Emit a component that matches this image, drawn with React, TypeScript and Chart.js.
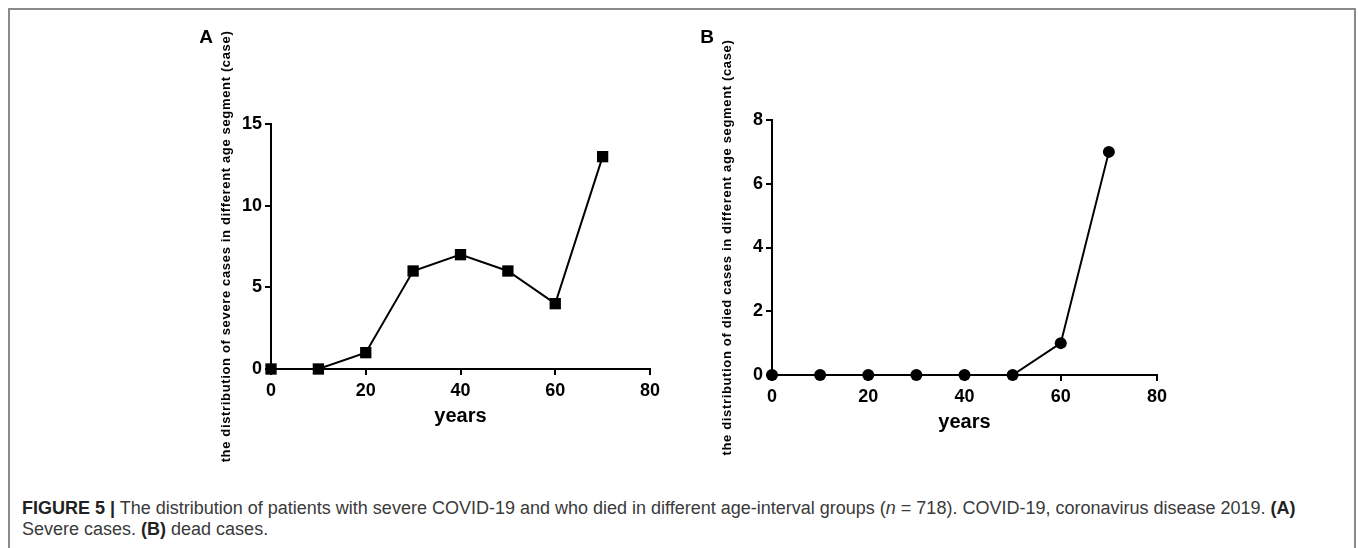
import React, { useEffect, useRef } from "react";
import { Chart, registerables } from "chart.js";

Chart.register(...registerables);

// ---- data ----
const ageYears = [0, 10, 20, 30, 40, 50, 60, 70];
const severeCases = [0, 0, 1, 6, 7, 6, 4, 13];
const diedCases = [0, 0, 0, 0, 0, 0, 1, 7];
const xTickValues = [0, 20, 40, 60, 80];
const severeTickValues = [0, 5, 10, 15];
const diedTickValues = [0, 2, 4, 6, 8];
const xAxisTitle = "years";
const severeTitle = "the distribution of severe cases in different age segment (case)";
const diedTitle = "the distribution of died cases in different age segment (case)";

const FONT = '"Liberation Sans", Arial, Helvetica, sans-serif';

type Area = { l: number; t: number; r: number; b: number };
type PanelProps = {
  left: number;
  top: number;
  width: number;
  height: number;
  area: Area;
  values: number[];
  yTicks: number[];
  pointStyle: "rect" | "circle";
  radius: number;
  letter: string;
  yTitle: string;
};

function Panel(p: PanelProps) {
  const ref = useRef<HTMLCanvasElement | null>(null);
  useEffect(() => {
    if (!ref.current) return;
    const yMax = p.yTicks[p.yTicks.length - 1];
    const labelsPlugin = {
      id: "panelLabels",
      afterDraw(chart: any) {
        const ctx = chart.ctx as CanvasRenderingContext2D;
        const ca = chart.chartArea;
        ctx.save();
        ctx.fillStyle = "#000";
        ctx.textAlign = "center";
        ctx.textBaseline = "middle";
        // panel letter
        ctx.font = `bold 19px ${FONT}`;
        ctx.fillText(p.letter, ca.left - 65, 18);
        // x title
        ctx.font = `bold 20px ${FONT}`;
        ctx.fillText(xAxisTitle, (ca.left + ca.right) / 2, ca.bottom + 47);
        // y title
        ctx.translate(ca.left - 45, (ca.top + ca.bottom) / 2);
        ctx.rotate(-Math.PI / 2);
        ctx.font = `bold 13px ${FONT}`;
        (ctx as any).letterSpacing = "0.65px";
        ctx.fillText(p.yTitle, 0, 0);
        ctx.restore();
      },
    };
    const tickFont = { family: FONT, size: 18, weight: "bold" as const };
    const chart = new Chart(ref.current, {
      type: "line",
      data: {
        datasets: [
          {
            data: ageYears.map((x, i) => ({ x, y: p.values[i] })),
            borderColor: "#000",
            backgroundColor: "#000",
            borderWidth: 2,
            pointStyle: p.pointStyle,
            pointRadius: p.radius,
            pointBorderWidth: 0,
            pointBackgroundColor: "#000",
            tension: 0,
            fill: false,
            clip: false as any,
          },
        ],
      },
      options: {
        animation: false,
        responsive: false,
        maintainAspectRatio: false,
        events: [],
        layout: {
          padding: { left: 0, top: p.area.t, right: p.width - p.area.r, bottom: 0 },
        },
        plugins: {
          legend: { display: false },
          tooltip: { enabled: false },
          title: { display: false },
        },
        scales: {
          x: {
            type: "linear",
            min: 0,
            max: 80,
            afterBuildTicks: (s: any) => {
              s.ticks = xTickValues.map((v) => ({ value: v }));
            },
            afterFit: (s: any) => {
              s.height = p.height - p.area.b;
            },
            grid: {
              display: true,
              drawOnChartArea: false,
              drawTicks: true,
              tickLength: 6,
              tickWidth: 2,
              tickColor: "#000",
              color: "#000",
              lineWidth: 2,
            },
            border: { display: true, color: "#000", width: 2 },
            ticks: {
              color: "#000",
              font: tickFont,
              padding: 5,
              maxRotation: 0,
              autoSkip: false,
            },
          },
          y: {
            type: "linear",
            min: 0,
            max: yMax,
            afterBuildTicks: (s: any) => {
              s.ticks = p.yTicks.map((v) => ({ value: v }));
            },
            afterFit: (s: any) => {
              s.width = p.area.l;
            },
            grid: {
              display: true,
              drawOnChartArea: false,
              drawTicks: true,
              tickLength: 6,
              tickWidth: 2,
              tickColor: "#000",
              color: "#000",
              lineWidth: 2,
            },
            border: { display: true, color: "#000", width: 2 },
            ticks: {
              color: "#000",
              font: tickFont,
              padding: 3,
              autoSkip: false,
            },
          },
        },
      },
      plugins: [labelsPlugin],
    } as any);
    return () => chart.destroy();
  }, []);
  return (
    <canvas
      ref={ref}
      width={p.width}
      height={p.height}
      style={{
        position: "absolute",
        left: p.left,
        top: p.top,
        width: p.width,
        height: p.height,
      }}
    />
  );
}

export default function App() {
  return (
    <div>
      <div
        style={{
          position: "absolute",
          left: 8,
          top: 8,
          width: 1344,
          height: 538,
          border: "2px solid #8a8a8a",
          borderBottom: "none",
          background: "#fff",
        }}
      />
      <Panel
        left={180}
        top={20}
        width={500}
        height={460}
        area={{ l: 91, t: 104, r: 470, b: 349 }}
        values={severeCases}
        yTicks={severeTickValues}
        pointStyle="rect"
        radius={8}
        letter="A"
        yTitle={severeTitle}
      />
      <Panel
        left={680}
        top={20}
        width={500}
        height={460}
        area={{ l: 92, t: 100, r: 477, b: 355 }}
        values={diedCases}
        yTicks={diedTickValues}
        pointStyle="circle"
        radius={6}
        letter="B"
        yTitle={diedTitle}
      />
      <div
        style={{
          position: "absolute",
          left: 22,
          top: 498,
          width: 1320,
          fontFamily: FONT,
          fontSize: 18,
          lineHeight: "21px",
          color: "#3a3a3a",
          whiteSpace: "nowrap",
        }}
      >
        <b style={{ color: "#222" }}>FIGURE 5 |</b> The distribution of patients with severe COVID-19 and who
        died in different age-interval groups (<i>n</i> = 718). COVID-19, coronavirus disease 2019.{" "}
        <b style={{ color: "#222" }}>(A)</b>
        <br />
        Severe cases. <b style={{ color: "#222" }}>(B)</b> dead cases.
      </div>
    </div>
  );
}
